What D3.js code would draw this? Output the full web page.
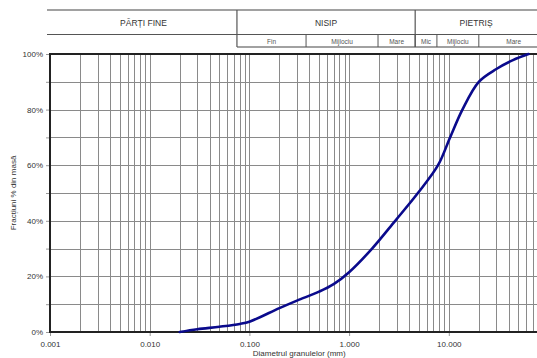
<!DOCTYPE html>
<html>
<head>
<meta charset="utf-8">
<script src="https://cdn.jsdelivr.net/npm/d3@7"></script>
<style>
  html, body { margin: 0; padding: 0; background: #fff; overflow: hidden; }
  svg { display: block; font-family: "Liberation Sans", Arial, sans-serif; }
</style>
</head>
<body>
<svg id="chart" width="537" height="358"></svg>
<script>
// Grain size distribution (sieve analysis): diameter in mm, cumulative passing in %
const diameters = [0.02, 0.03, 0.05, 0.08, 0.1, 0.2, 0.3, 0.5, 0.7, 1.0, 1.7, 2.9, 4.9, 7.8, 10.3, 13.7, 20, 30, 44, 63];
const passing   = [0,    1.0,  1.9,  2.9,  3.7, 8.6, 11.3, 14.5, 17.2, 21.5, 30, 40,  50,  60,  70,   80,   90, 94.6, 97.8, 100];

const xTickValues = [0.001, 0.01, 0.1, 1, 10];
const xTickLabels = ["0.001", "0.010", "0.100", "1.000", "10.000"];
const yTickValues = [0, 20, 40, 60, 80, 100];

// Soil classes (top header row) with their bounds in mm
const mainClasses = ["PĂRȚI FINE", "NISIP", "PIETRIȘ"];
const mainBounds  = [0.001, 0.075, 4.6, 100];
// Sub-classes (second header row), only for sand and gravel
const subClasses  = ["Fin", "Mijlociu", "Mare", "Mic", "Mijlociu", "Mare"];
const subBounds   = [0.075, 0.37, 1.95, 4.6, 7.6, 20, 100];

const svg = d3.select("#chart");
const plotLeft = 50, plotRight = 548.5, plotTop = 54, plotBottom = 332;
const headTop = 10, headMid = 34.5, headBottom = 47;

const x = d3.scaleLog().domain([0.001, 100]).range([plotLeft, plotRight]);
const y = d3.scaleLinear().domain([0, 100]).range([plotBottom, plotTop]);

const gridColor = "#8a8a8a";
const textColor = "#333";

// Vertical grid: every 1..9 multiple within each decade
const vGrid = [];
for (let e = -3; e < 2; e++) {
  for (let m = 1; m <= 9; m++) vGrid.push(m * Math.pow(10, e));
}
svg.append("g").selectAll("line").data(vGrid.filter(d => d > 0.001)).join("line")
  .attr("x1", d => Math.round(x(d)) + 0.5).attr("x2", d => Math.round(x(d)) + 0.5)
  .attr("y1", plotTop).attr("y2", plotBottom)
  .attr("stroke", gridColor).attr("stroke-width", 1);

// Horizontal grid every 10 %
const hGrid = d3.range(10, 100, 10);
svg.append("g").selectAll("line").data(hGrid).join("line")
  .attr("x1", plotLeft).attr("x2", plotRight)
  .attr("y1", d => Math.round(y(d)) + 0.5).attr("y2", d => Math.round(y(d)) + 0.5)
  .attr("stroke", gridColor).attr("stroke-width", 1);

// Y axis: ticks every 10 %, labels every 20 %
const yAxis = d3.axisLeft(y).tickValues(d3.range(0, 101, 10)).tickSize(4)
  .tickFormat(d => yTickValues.includes(d) ? d + "%" : "");
const gy = svg.append("g").attr("transform", `translate(${plotLeft},0)`).call(yAxis);
gy.select(".domain").remove();
gy.selectAll(".tick line").attr("stroke", "#999");
gy.selectAll("text").attr("fill", textColor).attr("font-size", 8).attr("x", -7);

// X axis
const xAxis = d3.axisBottom(x).tickValues(xTickValues).tickSize(4)
  .tickFormat((d, i) => xTickLabels[i]);
const gx = svg.append("g").attr("transform", `translate(0,${plotBottom})`).call(xAxis);
gx.select(".domain").remove();
gx.selectAll(".tick line").attr("stroke", "#999");
gx.selectAll("text").attr("fill", textColor).attr("font-size", 8).attr("y", 9);

// Plot frame lines
svg.append("line").attr("x1", plotLeft).attr("x2", plotLeft).attr("y1", plotTop - 1).attr("y2", plotBottom + 1)
  .attr("stroke", "#222").attr("stroke-width", 2);
svg.append("line").attr("x1", plotLeft - 1).attr("x2", plotRight).attr("y1", plotBottom).attr("y2", plotBottom)
  .attr("stroke", "#222").attr("stroke-width", 2);
svg.append("line").attr("x1", plotLeft - 1).attr("x2", plotRight).attr("y1", plotTop).attr("y2", plotTop)
  .attr("stroke", "#222").attr("stroke-width", 2);

// Header table
const hg = svg.append("g");
hg.append("line").attr("x1", 47).attr("x2", plotRight).attr("y1", headTop).attr("y2", headTop)
  .attr("stroke", "#444").attr("stroke-width", 1.2);
hg.append("line").attr("x1", 47).attr("x2", plotRight).attr("y1", headMid).attr("y2", headMid)
  .attr("stroke", "#555").attr("stroke-width", 1.2);
hg.append("line").attr("x1", x(subBounds[0])).attr("x2", plotRight).attr("y1", headBottom).attr("y2", headBottom)
  .attr("stroke", "#444").attr("stroke-width", 1.2);

hg.selectAll(".mainSep").data(mainBounds.slice(1, -1)).join("line")
  .attr("x1", d => x(d)).attr("x2", d => x(d)).attr("y1", headTop).attr("y2", headBottom)
  .attr("stroke", "#555").attr("stroke-width", 1.2);
hg.selectAll(".subSep").data(subBounds.slice(1, -1)).join("line")
  .attr("x1", d => x(d)).attr("x2", d => x(d)).attr("y1", headMid).attr("y2", headBottom)
  .attr("stroke", "#555").attr("stroke-width", 1);

hg.selectAll(".mainLabel").data(mainClasses).join("text")
  .attr("x", (d, i) => (Math.max(x(mainBounds[i]), 47) + Math.min(x(mainBounds[i + 1]), 537)) / 2)
  .attr("y", 26).attr("text-anchor", "middle")
  .attr("font-size", 8.5).attr("fill", textColor).text(d => d);
hg.selectAll(".subLabel").data(subClasses).join("text")
  .attr("x", (d, i) => (x(subBounds[i]) + x(subBounds[i + 1])) / 2)
  .attr("y", 43.5).attr("text-anchor", "middle")
  .attr("font-size", 6.5).attr("fill", "#555").text(d => d);

// Grading curve
const pts = diameters.map((d, i) => [d, passing[i]]);
const line = d3.line()
  .x(d => x(d[0])).y(d => y(d[1]))
  .curve(d3.curveCatmullRom.alpha(0.5));
svg.append("path").datum(pts).attr("d", line)
  .attr("fill", "none").attr("stroke", "#0a0a8c").attr("stroke-width", 2.6)
  .attr("stroke-linejoin", "round").attr("stroke-linecap", "round");

// Axis titles
svg.append("text").attr("x", (plotLeft + plotRight) / 2).attr("y", 356)
  .attr("text-anchor", "middle").attr("font-size", 8).attr("fill", textColor)
  .text("Diametrul granulelor (mm)");
svg.append("text")
  .attr("transform", `translate(16,${(plotTop + plotBottom) / 2}) rotate(-90)`)
  .attr("text-anchor", "middle").attr("font-size", 8).attr("fill", textColor)
  .text("Fracțiuni % din masă");
</script>
</body>
</html>
